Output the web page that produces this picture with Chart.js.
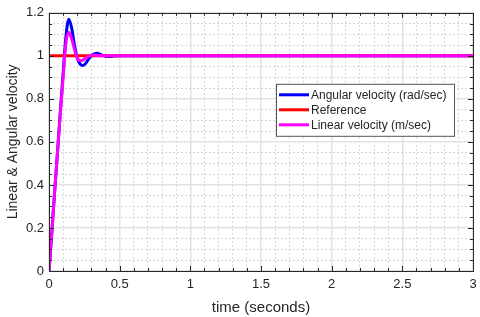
<!DOCTYPE html>
<html>
<head>
<meta charset="utf-8">
<script src="https://cdn.jsdelivr.net/npm/chart.js@4/dist/chart.umd.min.js"></script>
<style>
html,body{margin:0;padding:0;background:#fff;}
#wrap{width:480px;height:317px;}
</style>
</head>
<body>
<div id="wrap"><canvas id="myChart" width="480" height="317"></canvas></div>
<script>
// time samples (seconds)
var time = [0,0.02,0.04,0.06,0.08,0.10,0.12,0.14,0.16,0.18,0.20,0.22,0.24,0.26,0.28,0.30,0.32,0.34,0.36,0.38,0.40,0.43,0.46,0.50,0.60,1.0,3.0];
var angular = [0,0.18,0.37,0.55,0.74,0.92,1.09,1.17,1.13,1.05,0.99,0.962,0.955,0.965,0.985,1.0,1.009,1.012,1.008,1.002,0.998,0.997,0.999,1.0,1.0,1.0,1.0];
var linear = [0,0.18,0.37,0.55,0.73,0.90,1.06,1.11,1.08,1.03,0.99,0.978,0.98,0.99,0.998,1.003,1.004,1.002,1.0,1.0,1.0,1.0,1.0,1.0,1.0,1.0,1.0];
var refTime = [0,3];
var refValue = [1,1];
var seriesNames = ['Angular velocity (rad/sec)','Reference','Linear velocity (m/sec)'];
var xTitle = 'time (seconds)';
var yTitle = 'Linear & Angular velocity';

function pts(xs,ys){return xs.map(function(x,i){return {x:x,y:ys[i]};});}
function isMajor(v,step){var r=v/step;return Math.abs(r-Math.round(r))<1e-6;}
function fmt(v){return String(Math.round(v*100)/100);}

var textColor = '#262626';
var font = {family:'"Liberation Sans", Arial, sans-serif', size:13};

var boxPlugin = {
    id:'box',
    afterDraw:function(chart){
        var a = chart.chartArea, c = chart.ctx;
        c.save();
        c.strokeStyle = '#262626';
        c.lineWidth = 1;
        c.strokeRect(Math.round(a.left)+0.5,Math.round(a.top)+0.5,Math.round(a.right-a.left),Math.round(a.bottom-a.top));
        // inner ticks
        var xs = chart.scales.x, ys = chart.scales.y;
        c.beginPath();
        xs.ticks.forEach(function(t){
            var px = Math.round(xs.getPixelForValue(t.value))+0.5;
            var len = isMajor(t.value,0.5)?5:3;
            c.moveTo(px,a.bottom);c.lineTo(px,a.bottom-len);
            c.moveTo(px,a.top);c.lineTo(px,a.top+len);
        });
        ys.ticks.forEach(function(t){
            var py = Math.round(ys.getPixelForValue(t.value))+0.5;
            var len = isMajor(t.value,0.2)?5:3;
            c.moveTo(a.left,py);c.lineTo(a.left+len,py);
            c.moveTo(a.right,py);c.lineTo(a.right-len,py);
        });
        c.stroke();
        // legend
        var lx = a.right-197, ly = a.top+71, lw = 178, lh = 52;
        c.fillStyle = '#fff';
        c.fillRect(lx,ly,lw,lh);
        c.strokeStyle = '#555';
        c.strokeRect(lx+0.5,ly+0.5,lw,lh);
        c.font = '12px "Liberation Sans", Arial, sans-serif';
        c.textBaseline = 'middle';
        chart.data.datasets.forEach(function(ds,i){
            var yy = ly+11+i*15;
            c.strokeStyle = ds.borderColor;
            c.lineWidth = 3;
            c.beginPath();c.moveTo(lx+3,yy);c.lineTo(lx+33,yy);c.stroke();
            c.fillStyle = textColor;
            c.fillText(ds.label,lx+35,yy+1);
        });
        c.restore();
    }
};

var ctx = document.getElementById('myChart').getContext('2d');
window.myChart = new Chart(ctx,{
    type:'line',
    data:{
        datasets:[
            {label:seriesNames[0],data:pts(time,angular),borderColor:'rgb(0,0,255)',borderWidth:3,pointRadius:0,cubicInterpolationMode:'monotone',order:3},
            {label:seriesNames[1],data:pts(refTime,refValue),borderColor:'rgb(255,0,0)',borderWidth:3,pointRadius:0,order:2},
            {label:seriesNames[2],data:pts(time,linear),borderColor:'rgb(255,0,255)',borderWidth:3,pointRadius:0,cubicInterpolationMode:'monotone',order:1}
        ]
    },
    options:{
        responsive:false,
        animation:false,
        layout:{padding:{top:10,right:7,left:0,bottom:0}},
        plugins:{legend:{display:false},tooltip:{enabled:false}},
        scales:{
            x:{
                type:'linear',min:0,max:3,
                ticks:{stepSize:0.1,autoSkip:false,maxRotation:0,color:textColor,font:font,padding:2,
                    callback:function(v){return isMajor(v,0.5)?fmt(v):'';}},
                grid:{drawTicks:true,tickLength:4,tickColor:'rgba(0,0,0,0)',
                    color:function(c){return c.tick && isMajor(c.tick.value,0.5)?'#e2e2e2':'#d6d6d6';},
                    lineWidth:function(c){return c.tick && isMajor(c.tick.value,0.5)?1.5:1;}},
                border:{display:false,dash:function(c){return c.tick && !isMajor(c.tick.value,0.5)?[2,2]:[];}},
                title:{display:true,text:xTitle,color:textColor,font:{family:font.family,size:15},padding:{top:2,bottom:0}},
                afterFit:function(s){s.height=46;}
            },
            y:{
                min:0,max:1.2,
                ticks:{stepSize:0.05,autoSkip:false,color:textColor,font:font,padding:5,
                    callback:function(v){return isMajor(v,0.2)?fmt(v):'';}},
                grid:{drawTicks:false,
                    color:function(c){return c.tick && isMajor(c.tick.value,0.2)?'#e2e2e2':'#d6d6d6';},
                    lineWidth:function(c){return c.tick && isMajor(c.tick.value,0.2)?1.5:1;}},
                border:{display:false,dash:function(c){return c.tick && !isMajor(c.tick.value,0.2)?[2,2]:[];}},
                title:{display:true,text:yTitle,color:textColor,font:{family:font.family,size:14},padding:{top:5,bottom:2}},
                afterFit:function(s){s.width=49;}
            }
        }
    },
    plugins:[boxPlugin]
});
</script>
</body>
</html>
